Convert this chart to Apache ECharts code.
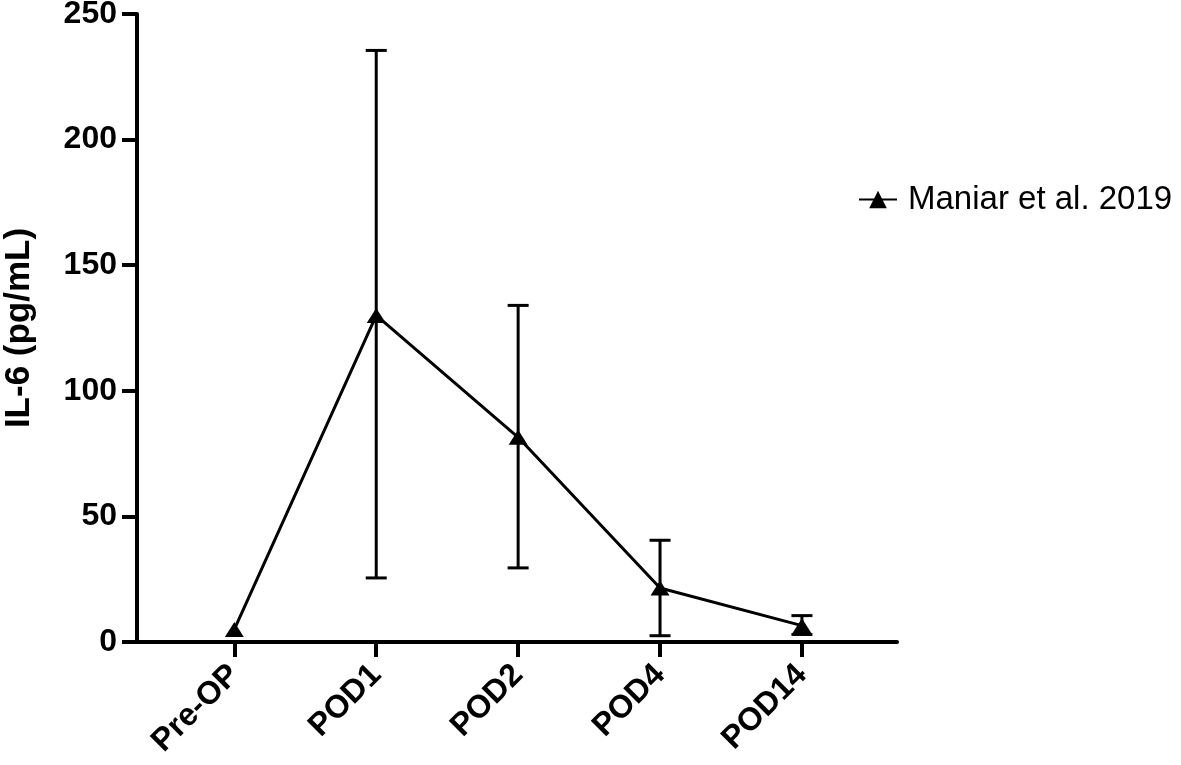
<!DOCTYPE html>
<html>
<head>
<meta charset="utf-8">
<script src="https://cdn.jsdelivr.net/npm/echarts@6/dist/echarts.min.js"></script>
<style>
  html, body { margin: 0; padding: 0; background: #fff; }
  #chart { width: 1181px; height: 765px; }
</style>
</head>
<body>
<div id="chart"></div>
<script>
var categories = ['Pre-OP', 'POD1', 'POD2', 'POD4', 'POD14'];
var means = [5, 130, 81.5, 21.5, 6.5];
var errLow = [null, 25.5, 29.5, 2.5, 3];
var errHigh = [null, 235.5, 134, 40.5, 10.5];
var yTicks = [0, 50, 100, 150, 200, 250];
var seriesName = 'Maniar et al. 2019';

var font = 'Liberation Sans, Arial, sans-serif';
var chart = echarts.init(document.getElementById('chart'));

var lineData = means.map(function(v, i){ return [i, v]; });
var barData = means.map(function(v, i){ return [i, errLow[i], errHigh[i]]; });

chart.setOption({
  animation: false,
  backgroundColor: '#fff',
  grid: { left: 137, right: 284, top: 14, bottom: 123, containLabel: false, outerBoundsMode: 'none' },
  legend: {
    left: 853, top: 178,
    itemWidth: 38, itemHeight: 22, itemGap: 10,
    data: [seriesName],
    textStyle: { fontFamily: font, fontSize: 33, color: '#000', padding: [0, 0, 0, 6] }
  },
  xAxis: {
    type: 'value', min: -0.686, max: 4.67,
    splitLine: { show: false },
    axisLine: { show: true, onZero: false, lineStyle: { color: '#000', width: 4 } },
    axisTick: { show: true, customValues: [0, 1, 2, 3, 4], length: 15, lineStyle: { color: '#000', width: 4 } },
    axisLabel: {
      customValues: [0, 1, 2, 3, 4],
      rotate: 45, margin: 28,
      fontFamily: font, fontSize: 32, fontWeight: 'bold', color: '#000',
      formatter: function(v){ return categories[Math.round(v)]; }
    }
  },
  yAxis: {
    type: 'value', min: 0, max: 250, interval: 50,
    name: 'IL-6 (pg/mL)', nameLocation: 'middle', nameGap: 100, nameRotate: 90,
    nameTextStyle: { fontFamily: font, fontSize: 35, fontWeight: 'bold', color: '#000' },
    splitLine: { show: false },
    axisLine: { show: true, onZero: false, lineStyle: { color: '#000', width: 4 } },
    axisTick: { show: true, length: 15, lineStyle: { color: '#000', width: 4 } },
    axisLabel: {
      margin: 20, fontFamily: font, fontSize: 32, fontWeight: 'bold', color: '#000',
      formatter: function(v){ return yTicks.indexOf(v) >= 0 ? String(v) : ''; }
    }
  },
  series: [
    {
      type: 'custom',
      name: 'err',
      data: barData,
      z: 2,
      renderItem: function(params, api){
        var lo = api.value(1), hi = api.value(2);
        if (lo == null || hi == null || isNaN(lo) || isNaN(hi)) return null;
        var x = api.value(0);
        var p1 = api.coord([x, lo]);
        var p2 = api.coord([x, hi]);
        var hw = 10.5;
        var style = { stroke: '#000', lineWidth: 3 };
        return {
          type: 'group',
          children: [
            { type: 'line', shape: { x1: p1[0], y1: p1[1], x2: p2[0], y2: p2[1] }, style: style },
            { type: 'line', shape: { x1: p1[0] - hw, y1: p1[1], x2: p1[0] + hw, y2: p1[1] }, style: style },
            { type: 'line', shape: { x1: p2[0] - hw, y1: p2[1], x2: p2[0] + hw, y2: p2[1] }, style: style }
          ]
        };
      }
    },
    {
      type: 'line',
      name: seriesName,
      data: lineData,
      z: 3,
      symbol: 'triangle',
      symbolSize: [19, 15],
      lineStyle: { color: '#000', width: 3 },
      itemStyle: { color: '#000' }
    }
  ]
});
</script>
</body>
</html>
